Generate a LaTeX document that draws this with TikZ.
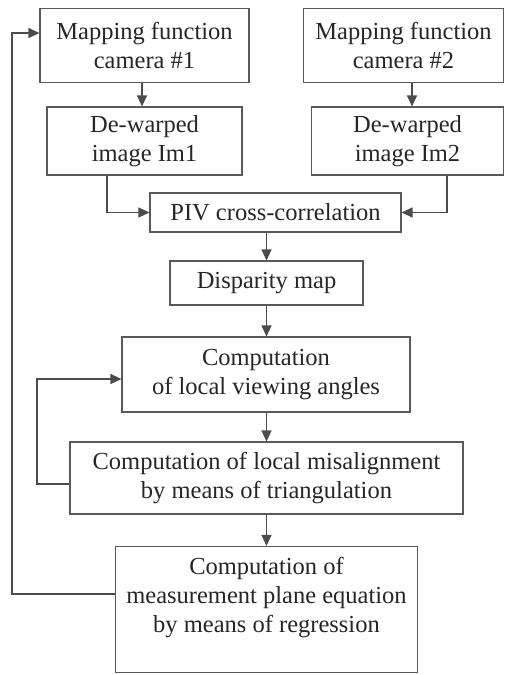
\documentclass[tikz,border=0pt]{standalone}
\usepackage{fontspec}
\setmainfont{Liberation Serif}
\usetikzlibrary{arrows.meta,calc}
\begin{document}
\begin{tikzpicture}[x=1pt,y=-1pt,
  box/.style={draw=black!65,line width=1.1pt,rectangle,inner sep=0pt,align=center,
    text=black!85,font=\fontsize{24.5}{28.8}\selectfont},
  arr/.style={draw=black!70,line width=1.1pt,-{Triangle[length=11pt,width=10pt]}},
  ln/.style={draw=black!70,line width=1.1pt}]
\useasboundingbox (0,0) rectangle (505,675);
\node[box,minimum width=209pt,minimum height=74pt] (mf1) at (144.5,45.5) {Mapping function\\camera \#1};
\node[box,minimum width=200pt,minimum height=74pt] (mf2) at (403.5,45.5) {Mapping function\\camera \#2};
\node[box,minimum width=195pt,minimum height=68pt] (dw1) at (144.5,141) {De-warped\\image Im1};
\node[box,minimum width=192pt,minimum height=68pt] (dw2) at (407.5,141) {De-warped\\image Im2};
\node[box,minimum width=251pt,minimum height=39pt] (piv) at (275.5,212.5) {PIV cross-correlation};
\node[box,minimum width=193pt,minimum height=44pt] (disp) at (266.5,283) {Disparity map};
\node[box,minimum width=288pt,minimum height=75pt] (ang) at (266,374.5) {Computation\\of local viewing angles};
\node[box,minimum width=393pt,minimum height=72pt] (mis) at (266.5,478) {Computation of local misalignment\\by means of triangulation};
\node[box,minimum width=302pt,minimum height=126pt] (reg) at (266.5,609.5) {Computation of\\measurement plane equation\\by means of regression\\\mbox{}};
\coordinate (xa) at (142,0);
\coordinate (xb) at (412,0);
\coordinate (xc) at (107,0);
\coordinate (xd) at (447,0);
\coordinate (xe) at (266.5,0);
\coordinate (la) at (37,0);
\coordinate (lb) at (12,0);
\coordinate (ya) at (0,484);
\coordinate (yb) at (0,379);
\coordinate (yc) at (0,594);
\coordinate (yd) at (0,33);
\draw[arr] (xa |- mf1.south) -- (xa |- dw1.north);
\draw[arr] (xb |- mf2.south) -- (xb |- dw2.north);
\draw[arr] (xc |- dw1.south) |- (piv.west);
\draw[arr] (xd |- dw2.south) |- (piv.east);
\draw[arr] (xe |- piv.south) -- (xe |- disp.north);
\draw[arr] (xe |- disp.south) -- (xe |- ang.north);
\draw[arr] (xe |- ang.south) -- (xe |- mis.north);
\draw[arr] (xe |- mis.south) -- (xe |- reg.north);
\draw[arr] (mis.west |- ya) -| (la |- yb) -- (ang.west |- yb);
\draw[arr] (reg.west |- yc) -| (lb |- yd) -- (mf1.west |- yd);
\end{tikzpicture}
\end{document}
